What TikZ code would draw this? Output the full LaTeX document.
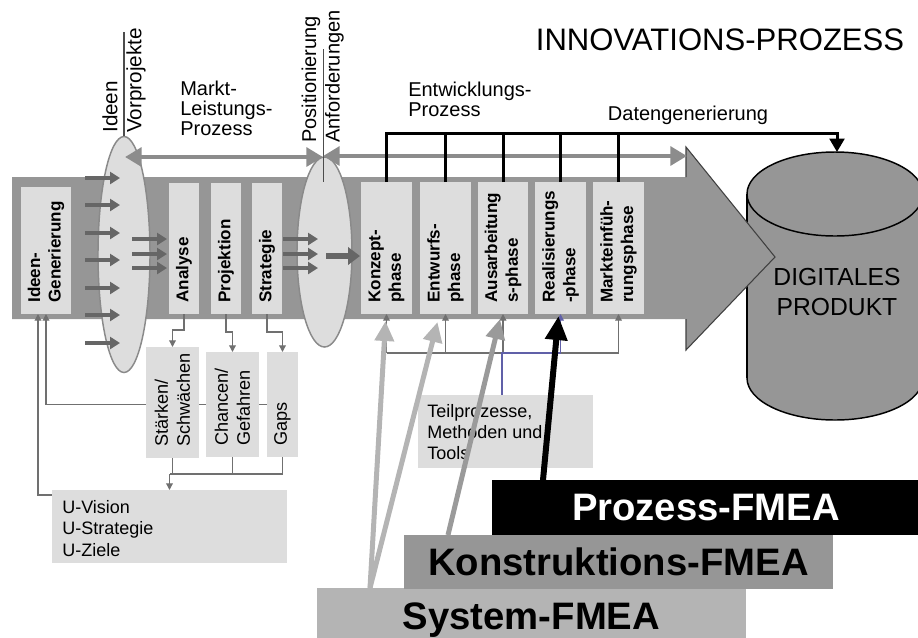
\documentclass[tikz,border=0pt]{standalone}
\usepackage{fontspec}
\setmainfont{Liberation Sans}
\usetikzlibrary{arrows.meta,calc,shapes.geometric}
\pgfdeclarelayer{back}
\pgfdeclarelayer{mid}
\pgfsetlayers{back,mid,main}
\definecolor{bandgray}{HTML}{969696}
\definecolor{boxgray}{HTML}{DDDDDD}
\definecolor{darkarr}{HTML}{666666}
\definecolor{bicol}{HTML}{8C8C8C}
\definecolor{thinln}{HTML}{707070}
\definecolor{sysgray}{HTML}{B4B4B4}
\definecolor{kongray}{HTML}{9A9A9A}
\definecolor{ellline}{HTML}{8A8A8A}
\definecolor{bluel}{HTML}{6060A8}
\newcommand\mybox[7]{\node[#1, inner sep=0, minimum width={(#4-#2)*0.75pt}, minimum height={(#5-#3)*0.75pt}] (#6) at ({(#2+#4)/2},{(#3+#5)/2}) {#7};}
\begin{document}
\begin{tikzpicture}[x=0.75pt,y=-0.75pt,
  lbox/.style={fill=boxgray, outer sep=0},
  ell/.style={ellipse, fill=boxgray, draw=ellline, line width=1.1pt, inner sep=0},
  blab/.style={rotate=90, anchor=west, align=left, inner sep=0, font=\bfseries\fontsize{12.8}{15.5}\selectfont},
  slab/.style={rotate=90, anchor=west, align=left, inner sep=0, font=\fontsize{13.6}{16.5}\selectfont},
  plab/.style={anchor=west, align=left, inner sep=0, font=\fontsize{13.5}{16}\selectfont},
  tlab/.style={inner sep=0, font=\fontsize{15}{15}\selectfont},
  rtlab/.style={tlab, rotate=90, anchor=west},
  fmea/.style={font=\bfseries\fontsize{28.7}{28.7}\selectfont},
  darr/.style={draw=darkarr, line width=3.5pt, -{Triangle[length=7.5pt,width=9pt]}},
  bigarr/.style={draw=darkarr, line width=5pt, -{Triangle[length=9pt,width=13pt]}},
  biarrow/.style={draw=bicol, line width=3.5pt, {Triangle[length=12.5pt,width=14pt]}-{Triangle[length=12.5pt,width=14pt]}},
  blk/.style={draw=black, line width=2.25pt},
  tline/.style={draw=thinln, line width=0.9pt},
  tarr/.style={tline, -{Triangle[length=5pt,width=5pt]}},
  bline/.style={draw=bluel, line width=0.9pt, -{Triangle[length=5pt,width=5pt]}},
  sysarr/.style={draw=sysgray, line width=3.75pt, -{Triangle[length=15pt,width=14pt]}},
  konarr/.style={draw=kongray, line width=3.75pt, -{Triangle[length=15pt,width=14pt]}},
  proarr/.style={draw=black, line width=4.5pt, -{Triangle[length=18pt,width=16pt]}},
  vline/.style={draw=black!70, line width=0.8pt}
]
\clip (0,0) rectangle (918,637);

% ---------- ellipses ----------
\node[ell, minimum width=39pt, minimum height=177pt] (e1) at (124,254.5) {};
\node[ell, minimum width=41.25pt, minimum height=142.5pt] (e2) at (324.5,252) {};

% ---------- upper boxes ----------
\mybox{lbox}{21}{187}{71}{314}{ig}{}
\mybox{lbox}{169}{183}{199}{314}{an}{}
\mybox{lbox}{211}{183}{241}{314}{pj}{}
\mybox{lbox}{252}{183}{282}{314}{st}{}
\mybox{lbox}{361}{182}{412}{314}{kp}{}
\mybox{lbox}{420}{182}{471}{314}{ep}{}
\mybox{lbox}{478}{182}{528}{314}{ap}{}
\mybox{lbox}{535}{182}{586}{314}{rp}{}
\mybox{lbox}{593}{182}{644}{314}{mp}{}
\node[blab] (l-ig) at ($(ig.south)+(0,-11)$) {Ideen-\\Generierung};
\node[blab] (l-an) at ($(an.south)+(0,-11)$) {Analyse};
\node[blab] (l-pj) at ($(pj.south)+(0,-11)$) {Projektion};
\node[blab] (l-st) at ($(st.south)+(0,-11)$) {Strategie};
\node[blab] (l-kp) at ($(kp.south)+(0,-11)$) {Konzept-\\phase};
\node[blab] (l-ep) at ($(ep.south)+(0,-11)$) {Entwurfs-\\phase};
\node[blab] (l-ap) at ($(ap.south)+(0,-11)$) {Ausarbeitung\\s-phase};
\node[blab] (l-rp) at ($(rp.south)+(0,-11)$) {Realisierungs\\-phase};
\node[blab] (l-mp) at ($(mp.south)+(0,-11)$) {Markteinfüh-\\rungsphase};

% ---------- lower boxes ----------
\mybox{lbox}{146}{347}{199}{458}{sw}{}
\mybox{lbox}{206}{352}{259}{457}{cg}{}
\mybox{lbox}{267}{352}{298}{457}{gp}{}
\node[slab] (l-sw) at ($(sw.south)+(0,-11)$) {Stärken/\\Schwächen};
\node[slab] (l-cg) at ($(cg.south)+(0,-11)$) {Chancen/\\Gefahren};
\node[slab] (l-gp) at ($(gp.south)+(0,-11)$) {Gaps};
\mybox{lbox}{52}{490}{287}{563}{uv}{}
\node[plab] (l-uv) at (62,528.5) {U-Vision\\U-Strategie\\U-Ziele};
\mybox{lbox}{418}{395}{593}{468}{tp}{}
\node[plab] (l-tp) at (427,432) {Teilprozesse,\\Methoden und\\Tools};

% ---------- cylinder ----------
\coordinate (cyltop) at (837,152);
\node[align=center, inner sep=0, font=\fontsize{18.5}{22.5}\selectfont] (dp) at (837,292) {DIGITALES\\PRODUKT};

% ---------- titles and top labels ----------
\node[tlab, font=\fontsize{23.3}{23.3}\selectfont] (title) at (720,40) {INNOVATIONS-PROZESS};
\node[tlab, anchor=west, align=left] (mlp) at (180,108) {Markt-\\Leistungs-\\Prozess};
\node[tlab, anchor=west, align=left] (ewp) at (408,99) {Entwicklungs-\\Prozess};
\node[tlab] (dg) at (688,115) {Datengenerierung};
\node[rtlab, font=\fontsize{15.5}{15.5}\selectfont] (lid) at (110,133) {Ideen};
\node[rtlab, font=\fontsize{15.5}{15.5}\selectfont] (lvp) at (136,133) {Vorprojekte};
\node[rtlab] (lpo) at (311,143) {Positionierung};
\node[rtlab] (lan) at (334.5,143) {Anforderungen};
\draw[vline] (e1.north) -- ++(0,-104);
\draw[vline] ([xshift=-1pt]e2.north) -- ++(0,-107);
\draw[vline] ([xshift=-1pt]e2.north) -- ++(0,26);

% ---------- dark arrows ----------
\foreach \y in {178,205,233,260,288,315,343} \draw[darr] (85,\y) -- (120,\y);
\foreach \y in {239,254,268} {\draw[darr] (132,\y) -- (167,\y); \draw[darr] (283,\y) -- (318,\y);}
\draw[bigarr] (326,256) -- (360,256);

% ---------- bi-directional arrows ----------
\coordinate (b1) at (125,157);
\coordinate (b2) at (323,157);
\coordinate (b3) at (687,156);
\draw[biarrow] (b1) -- (b2);
\draw[biarrow] (b2 |- b3) -- (b3);

% ---------- black bracket ----------
\coordinate (topy) at (0,133);
\draw[blk, -{Triangle[length=10pt,width=11pt]}] (kp.north) |- (cyltop |- topy) -- (cyltop);
\foreach \b in {ep,ap,rp,mp} \draw[blk] (\b.north) -- (\b.north |- topy);

% ---------- FMEA boxes ----------
\mybox{fill=sysgray, fmea}{317}{588}{746}{652}{sf}{System-FMEA}
\mybox{fill=bandgray, fmea}{404}{535}{833}{589}{kf}{Konstruktions-FMEA}
\mybox{fill=black, text=white, fmea}{492}{480}{920}{535}{pf}{Prozess-FMEA}
\coordinate (s0) at (370,588);
\coordinate (k0) at (448,535);
\coordinate (p0) at (543,480);
\draw[sysarr] (s0) -- ($(kp.south)+(-1,7)$);
\draw[sysarr] (s0) -- ($(ep.south)+(-8,8)$);
\draw[konarr] (k0) -- ($(ap.south)+(-3,5)$);
\draw[proarr] (p0) -- ($(rp.south)+(-2,2)$);

% ---------- back layer: cylinder and process arrow ----------
\begin{pgfonlayer}{back}
\filldraw[fill=bandgray, draw=black, line width=1.1pt] (835,378) ellipse[x radius=88, y radius=42];
\fill[bandgray] (747,194) rectangle (925,378);
\draw[line width=1.1pt] (747,194) -- (747,378);
\filldraw[fill=bandgray, draw=black, line width=1.1pt] (835,194) ellipse[x radius=88, y radius=42];
\fill[bandgray] (12,177) -- (686,177) -- (686,147) -- (775,257) -- (686,350) -- (686,319) -- (12,319) -- cycle;
\draw[draw=black!75, line width=0.8pt] (686,177) -- (686,147) -- (775,257) -- (686,350) -- (686,319);
\end{pgfonlayer}

% ---------- mid layer: thin connectors ----------
\begin{pgfonlayer}{mid}
\coordinate (uvin) at (52,495);
\draw[tarr] (gp.west) -| (ig.south);
\draw[tarr] (uvin) -| ([xshift=-6pt]ig.south);
\draw[tarr] (an.south) -- ++(0,16) -| (sw.north);
\draw[tarr] (pj.south) -- ++(0,18) -| (cg.north);
\draw[tarr] (st.south) -- ++(0,18) -| (gp.north);
\coordinate (jn) at (169.5,474);
\draw[tline] (sw.south) -- (sw.south |- jn);
\draw[tline] (cg.south) -- (cg.south |- jn);
\draw[tline] (gp.south) -- (gp.south |- jn) -- (jn);
\draw[tarr] (jn) -- (uv.north);
\coordinate (pl) at (386.5,353);
\draw[tline] (pl) -- (mp.south |- pl);
\foreach \b in {kp,ep,ap,mp} \draw[tarr] (\b.south |- pl) -- (\b.south);
\coordinate (tpin) at (502,395);
\draw[bline] (tpin) |- (rp.south |- pl) -- (rp.south);
\end{pgfonlayer}
\end{tikzpicture}
\end{document}
